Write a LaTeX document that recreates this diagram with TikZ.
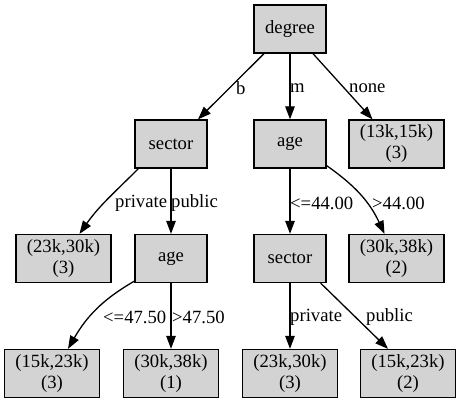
\documentclass[tikz,border=0pt]{standalone}
\usepackage{fontspec}
\setmainfont{Liberation Serif}
\usetikzlibrary{arrows.meta,calc}

\definecolor{boxgray}{HTML}{D3D3D3}

\begin{document}
\begin{tikzpicture}[x=1pt,y=-1pt,
  font=\fontsize{18.67}{21}\selectfont,
  split/.style={draw,line width=1.3pt,fill=boxgray,minimum width=72pt,minimum height=48pt,inner sep=0pt},
  leaf/.style={split,minimum width=95pt,align=center},
  edge/.style={line width=1.3pt,-{Triangle[length=13pt,width=9.5pt]}},
  lab/.style={inner sep=0pt,anchor=west}]

\useasboundingbox (0,0) rectangle (461,403);

% Root
\node[split] (deg) at (290,29) {degree};

% Level 1
\node[split] (sec1) at (171,144) {sector};
\node[split] (age1) at (290,144) {age};
\node[leaf] (l13) at (396.5,144) {(13k,15k)\\(3)};

% Level 2
\node[leaf] (l23a) at (63.5,258.5) {(23k,30k)\\(3)};
\node[split] (age2) at (171,258.5) {age};
\node[split] (sec2) at (290,258.5) {sector};
\node[leaf] (l30a) at (396.5,258.5) {(30k,38k)\\(2)};

% Level 3
\node[leaf] (l15a) at (52,373.5) {(15k,23k)\\(3)};
\node[leaf] (l30b) at (171,373.5) {(30k,38k)\\(1)};
\node[leaf] (l23b) at (290,373.5) {(23k,30k)\\(3)};
\node[leaf] (l15b) at (408,373.5) {(15k,23k)\\(2)};

% Edges from root
\draw[edge] ($(deg.south)+(-26,0)$) -- ($(sec1.north)+(27,0)$);
\draw[edge] (deg.south) -- (age1.north);
\draw[edge] ($(deg.south)+(23,0)$) -- ($(l13.north)+(-24,0)$);
\node[lab] (tb) at (236,88) {b};
\node[lab] (tm) at (290,88) {m};
\node[lab] (tnone) at (349,88) {none};

% Edges from sector
\draw[edge] ($(sec1.south west)+(4,0)$) to[out=-135,in=55] ($(l23a.north)+(16,0)$);
\draw[edge] (sec1.south) -- (age2.north);
\node[lab] (tpriv1) at (115,203) {private};
\node[lab] (tpub1) at (171,203) {public};

% Edges from age
\draw[edge] (age1.south) -- (sec2.north);
\draw[edge] ($(age1.south east)+(0,-3)$) to[out=-35,in=115] ($(l30a.north)+(-12,0)$);
\node[lab] (tle44) at (290,203) {<=44.00};
\node[lab] (tgt44) at (372,203) {>44.00};

% Edges from age (level 2)
\draw[edge] ($(age2.south west)+(0,-2)$) to[out=-150,in=60] ($(l15a.north)+(16,0)$);
\draw[edge] (age2.south) -- (l30b.north);
\node[lab] (tle47) at (103,317) {<=47.50};
\node[lab] (tgt47) at (172,317) {>47.50};

% Edges from sector (level 2)
\draw[edge] (sec2.south) -- (l23b.north);
\draw[edge] ($(sec2.south east)+(-6,0)$) -- ($(l15b.north)+(-20,0)$);
\node[lab] (tpriv2) at (290,317) {private};
\node[lab] (tpub2) at (366,317) {public};

\end{tikzpicture}
\end{document}
